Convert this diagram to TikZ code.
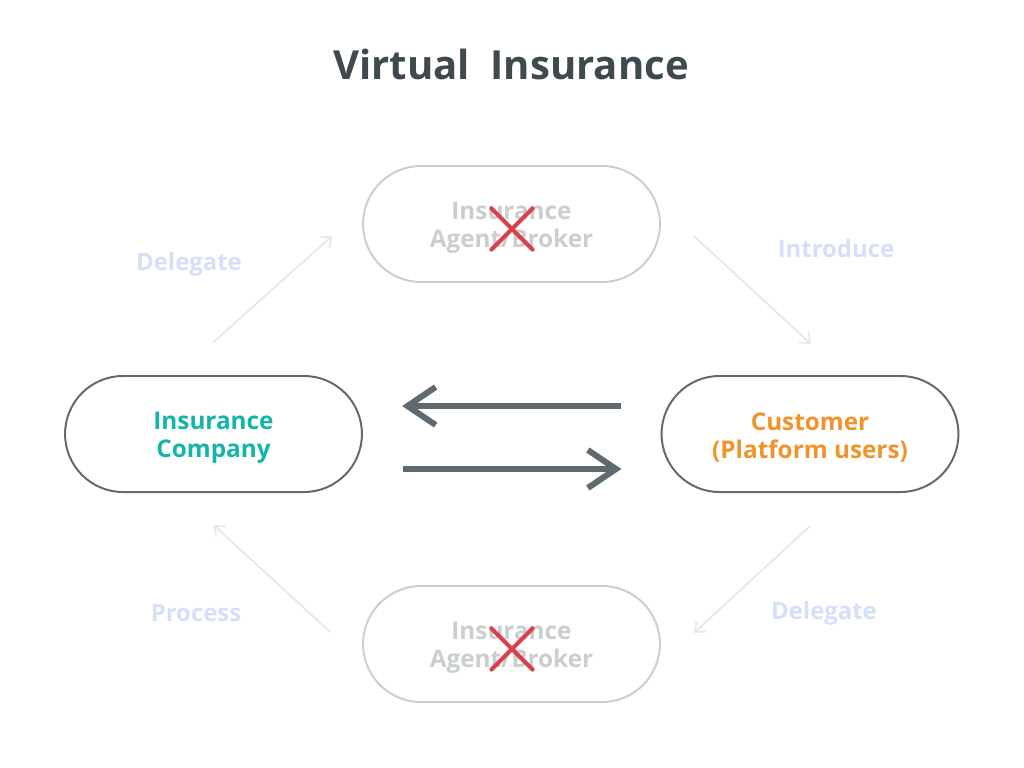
\documentclass[tikz,border=0pt]{standalone}
\usepackage{fontspec}
\setmainfont{Open Sans}
\usepackage{xcolor}
\usepackage{tikz}
\usetikzlibrary{arrows.meta,positioning,calc,shapes.misc}
\definecolor{cTitle}{HTML}{3F4A4E}
\definecolor{cDark}{HTML}{5F6A70}
\definecolor{cFade}{HTML}{CACED1}
\definecolor{cFaint}{HTML}{E6E8E9}
\definecolor{cTeal}{HTML}{12B5A8}
\definecolor{cOrange}{HTML}{EF932C}
\definecolor{cRed}{HTML}{D9414A}
\definecolor{cSky}{HTML}{D5DFFA}
\newcommand{\toplift}{\rule{0pt}{17.6pt}}% taller first line, nudges text down a bit
\tikzset{
  pill/.style={draw=#1,line width=1.4pt,rounded corners=1.45cm,minimum width=7.42cm,minimum height=2.9cm,
    align=center,font=\fontsize{17.3}{19.8}\selectfont\bfseries,inner sep=0pt},
  pill/.default=cDark,
  ttl/.style={font=\fontsize{28.5}{32}\selectfont\bfseries,text=cTitle},
  xmark/.style={cross out,draw=cRed,line width=3pt,line cap=round,minimum size=0.92cm,inner sep=0pt},
  bigarr/.style={-{Straight Barb[length=20pt,width=27pt]},line width=4.3pt,color=cDark},
  farr/.style={-{Straight Barb[length=6pt,width=10pt]},line width=1.3pt,color=cFaint},
  lbl/.style={font=\fontsize{17}{20}\selectfont\bfseries,text=cSky},
}
\begin{document}
\begin{tikzpicture}[x=0.025cm,y=-0.025cm]
\useasboundingbox (0,0) rectangle (1024,768);
\node[ttl] (title) at (511,64) {Virtual\ \ Insurance};
% the four parties
\node[pill] (comp) at (213.5,434) {\toplift\textcolor{cTeal}{Insurance}\\\textcolor{cTeal}{Company}};
\node[pill] (cust) at (810,434) {\toplift\textcolor{cOrange}{Customer}\\\textcolor{cOrange}{(Platform users)}};
\node[pill=cFade,text=cFade] (agtop) at (511.5,224) {\toplift Insurance\\Agent/Broker};
\node[pill=cFade,text=cFade] (agbot) at (511.5,644) {\toplift Insurance\\Agent/Broker};
\node[xmark] (xtop) at (512,229) {};
\node[xmark] (xbot) at (512,649) {};
% direct exchange
\draw[bigarr,shorten <=0.99cm,shorten >=0.98cm] ($(cust.west)+(0,-28)$) -- ($(comp.east)+(0,-28)$);
\draw[bigarr,shorten <=1.0cm,shorten >=0.98cm] ($(comp.east)+(0,35)$) -- ($(cust.west)+(0,35)$);
% old route via agents
\draw[farr] ($(comp.north)+(0,-33)$) -- ($(agtop.west)+(-30,12)$);
\draw[farr] ($(agtop.east)+(33,12)$) -- ($(cust.north)+(1,-31)$);
\draw[farr] ($(cust.south)+(0,33)$) -- ($(agbot.east)+(33,-11)$);
\draw[farr] ($(agbot.west)+(-32,-12)$) -- ($(comp.south)+(0,32)$);
\node[lbl] (ldel1) at (189,264) {Delegate};
\node[lbl] (lintro) at (836,249) {Introduce};
\node[lbl] (lproc) at (196,613) {Process};
\node[lbl] (ldel2) at (824,613) {Delegate};
\end{tikzpicture}
\end{document}
